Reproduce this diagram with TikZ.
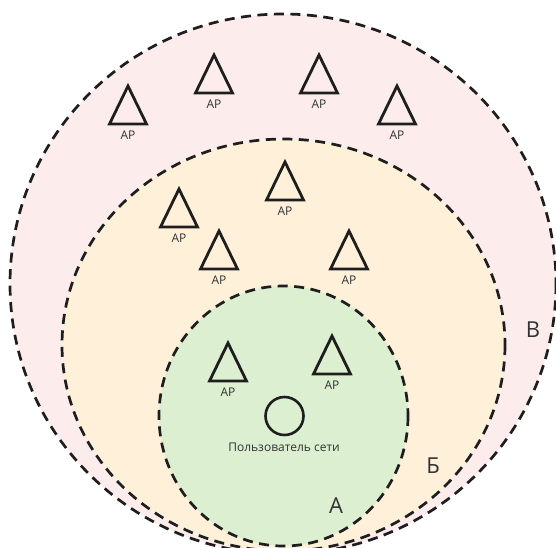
\documentclass[tikz,border=0pt]{standalone}
\usepackage{fontspec}
\setmainfont{Open Sans}
\usepackage{tikz}
\usetikzlibrary{positioning}

\definecolor{zoneV}{HTML}{FDECEC}
\definecolor{zoneB}{HTML}{FFF0D9}
\definecolor{zoneA}{HTML}{DCEFD0}
\definecolor{inkgray}{HTML}{1E1E1E}
\definecolor{textgray}{HTML}{333333}

\begin{document}
\begin{tikzpicture}[x=1pt, y=-1pt,
        zone/.style={draw=inkgray, line width=2.7pt, dash pattern=on 10pt off 6.5pt},
        apmark/.style={draw=inkgray, line width=2.8pt, line join=miter},
        aptext/.style={font=\fontsize{12}{14}\selectfont, text=textgray, inner sep=0pt},
        zonetext/.style={font=\fontsize{22}{26}\selectfont, text=textgray, inner sep=0pt}]
        \useasboundingbox (0,0) rectangle (556,547);
        \clip (0,0) rectangle (556,547);

        % Zones: В, Б, А
        \draw[zone, fill=zoneV] (283,284) ellipse [x radius=273, y radius=270];
        \draw[zone, fill=zoneB] (283.5,345) ellipse [x radius=221.5, y radius=206];
        \draw[zone, fill=zoneA] (283.5,416) ellipse [x radius=124.5, y radius=130];

        % Access points
        \foreach \n/\x/\y in {1/128/86, 2/214/55, 3/319/55, 4/397/86,
                              5/285/162, 6/179/189, 7/219/231, 8/349/231,
                              9/228/343, 10/332/336}{
            \draw[apmark] (\x,\y) -- ++(18.5,38) -- ++(-37,0) -- cycle;
            \node[aptext] (ap\n) at (\x,\y+49) {AP};
        }

        % User
        \node[draw=inkgray, circle, line width=2.6pt, minimum size=38pt, inner sep=0pt] (user) at (284.5,416) {};
        \node[aptext] (userlabel) at (284,447) {Пользователь сети};

        % Zone labels
        \node[zonetext] (labelV) at (533,330) {В};
        \node[zonetext] (labelB) at (433,466) {Б};
        \node[zonetext] (labelA) at (336,506) {А};
    \end{tikzpicture}
\end{document}
